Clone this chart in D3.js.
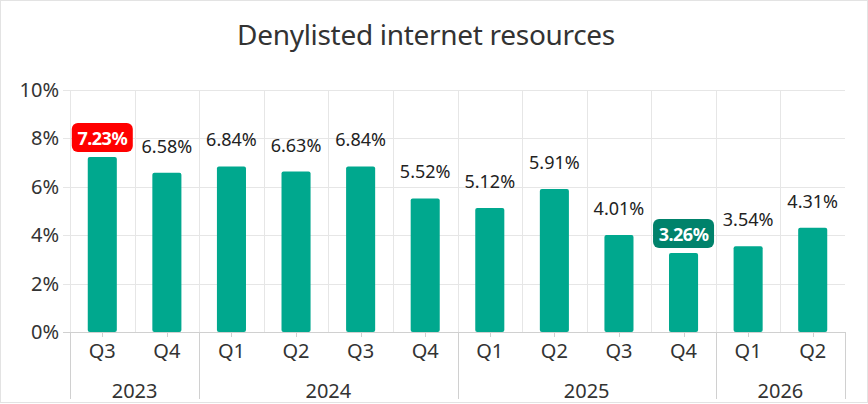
<!DOCTYPE html>
<html>
<head>
<meta charset="utf-8">
<script src="https://cdn.jsdelivr.net/npm/d3@7"></script>
<style>
  body { margin: 0; background: #fff; }
  svg { display: block; font-family: "Noto Sans", sans-serif; }
</style>
</head>
<body>
<div id="chart"></div>
<script>
var quarters = ["Q3", "Q4", "Q1", "Q2", "Q3", "Q4", "Q1", "Q2", "Q3", "Q4", "Q1", "Q2"];
var years = ["2023", "2023", "2024", "2024", "2024", "2024", "2025", "2025", "2025", "2025", "2026", "2026"];
var values = [7.23, 6.58, 6.84, 6.63, 6.84, 5.52, 5.12, 5.91, 4.01, 3.26, 3.54, 4.31];
var yTicks = [0, 2, 4, 6, 8, 10];
var highlightMax = 0;   // index of max (red box)
var highlightMin = 9;   // index of min (dark green box)

function init() {
  var width = 868, height = 404;
  var left = 70, right = 845, top = 90, bottom = 332;

  var svg = d3.select("#chart").append("svg")
    .attr("width", width)
    .attr("height", height);

  svg.append("rect")
    .attr("x", 0.5).attr("y", 0.5)
    .attr("width", width - 1).attr("height", height - 2)
    .attr("fill", "#fff")
    .attr("stroke", "#e3e3e3");

  svg.append("text")
    .attr("x", 426).attr("y", 45)
    .attr("text-anchor", "middle")
    .attr("font-size", 28)
    .attr("letter-spacing", -0.3)
    .attr("fill", "#333")
    .text("Denylisted internet resources");

  var keys = values.map(function(d, i) { return i; });

  var x = d3.scaleBand()
    .domain(keys)
    .range([left, right])
    .paddingInner(0.55)
    .paddingOuter(0.275);

  var y = d3.scaleLinear()
    .domain([0, 10])
    .range([bottom, top]);

  // horizontal grid
  svg.selectAll(".hgrid")
    .data(yTicks.filter(function(d) { return d > 0; }))
    .enter().append("line")
    .attr("x1", left - 7).attr("x2", right)
    .attr("y1", function(d) { return Math.round(y(d)) + 0.5; })
    .attr("y2", function(d) { return Math.round(y(d)) + 0.5; })
    .attr("stroke", "#e6e6e6");

  // vertical grid at start of each category
  var step = x.step();
  svg.selectAll(".vgrid")
    .data(keys)
    .enter().append("line")
    .attr("x1", function(d) { return Math.round(x(d) - step * 0.275) + 0.5; })
    .attr("x2", function(d) { return Math.round(x(d) - step * 0.275) + 0.5; })
    .attr("y1", top).attr("y2", bottom)
    .attr("stroke", "#e6e6e6");

  // y labels
  svg.selectAll(".ylab")
    .data(yTicks)
    .enter().append("text")
    .attr("x", 59)
    .attr("y", function(d) { return y(d) + 7; })
    .attr("text-anchor", "end")
    .attr("font-size", 20)
    .attr("fill", "#333")
    .text(function(d) { return d + "%"; });

  // bars
  svg.selectAll(".bar")
    .data(values)
    .enter().append("rect")
    .attr("x", function(d, i) { return x(i); })
    .attr("y", function(d) { return y(d); })
    .attr("width", x.bandwidth())
    .attr("height", function(d) { return y(0) - y(d); })
    .attr("rx", 2)
    .attr("fill", "#00a88e");

  // axis line
  svg.append("line")
    .attr("x1", left - 7).attr("x2", right)
    .attr("y1", Math.round(y(0)) + 0.5).attr("y2", Math.round(y(0)) + 0.5)
    .attr("stroke", "#d0d0d0");

  // tick marks
  svg.selectAll(".tick")
    .data(keys)
    .enter().append("line")
    .attr("x1", function(d) { return Math.round(x(d) + x.bandwidth() / 2) + 0.5; })
    .attr("x2", function(d) { return Math.round(x(d) + x.bandwidth() / 2) + 0.5; })
    .attr("y1", bottom).attr("y2", bottom + 5)
    .attr("stroke", "#d0d0d0");

  // quarter labels
  svg.selectAll(".qlab")
    .data(quarters)
    .enter().append("text")
    .attr("x", function(d, i) { return x(i) + x.bandwidth() / 2; })
    .attr("y", 358)
    .attr("text-anchor", "middle")
    .attr("font-size", 20)
    .attr("fill", "#333")
    .text(function(d) { return d; });

  // year groups
  var groups = d3.groups(keys, function(i) { return years[i]; });
  var seps = [left];
  groups.forEach(function(g) {
    var first = g[1][0], last = g[1][g[1].length - 1];
    var x0 = x(first) - step * 0.275, x1 = x(last) + x.bandwidth() + step * 0.275;
    seps.push(x1);
    svg.append("text")
      .attr("x", (x0 + x1) / 2)
      .attr("y", 398)
      .attr("text-anchor", "middle")
      .attr("font-size", 20)
      .attr("fill", "#333")
      .text(g[0]);
  });

  svg.selectAll(".sep")
    .data(seps)
    .enter().append("line")
    .attr("x1", function(d) { return Math.round(d) + 0.5; })
    .attr("x2", function(d) { return Math.round(d) + 0.5; })
    .attr("y1", bottom).attr("y2", 399)
    .attr("stroke", "#d0d0d0");

  // value labels
  values.forEach(function(d, i) {
    var cx = x(i) + x.bandwidth() / 2;
    var label = d.toFixed(2) + "%";
    if (i === highlightMax || i === highlightMin) {
      svg.append("rect")
        .attr("x", cx - 30.5).attr("y", y(d) - 34)
        .attr("width", 61).attr("height", 29)
        .attr("rx", 6)
        .attr("fill", i === highlightMax ? "#ff0000" : "#00826b");
      svg.append("text")
        .attr("x", cx).attr("y", y(d) - 12.5)
        .attr("text-anchor", "middle")
        .attr("font-size", 18)
        .attr("font-weight", "bold")
        .attr("letter-spacing", -0.5)
        .attr("fill", "#fff")
        .text(label);
    } else {
      svg.append("text")
        .attr("x", cx).attr("y", y(d) - 20)
        .attr("text-anchor", "middle")
        .attr("font-size", 18)
        .attr("fill", "#222")
        .text(label);
    }
  });
}

window.onload = init;
</script>
</body>
</html>
